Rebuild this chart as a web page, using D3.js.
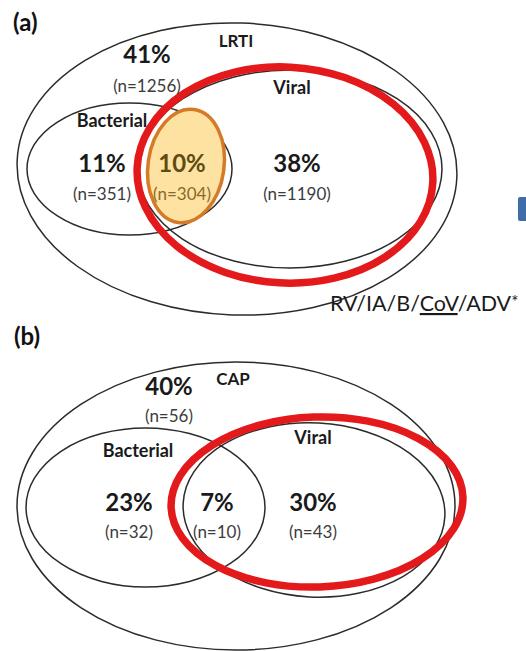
<!DOCTYPE html>
<html>
<head>
<meta charset="utf-8">
<script src="https://cdn.jsdelivr.net/npm/d3@7"></script>
<style>
  html, body { margin: 0; padding: 0; background: #fff; }
  svg { display: block; }
  text { font-family: Lato, "Open Sans", sans-serif; }
</style>
</head>
<body>
<div id="chart"></div>
<script>
// ---- data ----
const panelTags   = ["(a)", "(b)"];
const cohortNames = ["LRTI", "CAP"];
const setNames    = ["Bacterial", "Viral"];
// regions: neither, bacterial only, co-detection, viral only
const regionKeys  = ["neither", "bacterialOnly", "both", "viralOnly"];
const lrtiPct     = [41, 11, 10, 38];
const lrtiN       = [1256, 351, 304, 1190];
const capPct      = [40, 23, 7, 30];
const capN        = [56, 32, 10, 43];
const pathogenList = ["RV", "IA", "B", "CoV", "ADV"];

// ---- layout (pixel units inside each panel frame) ----
const W = 526, H = 651;
const panelOffsets = [0, 337];

// ellipse geometry per panel: cx, cy, rx, ry, rotation (deg)
const shapesA = {
  cohort:    [237, 169, 220, 146, 2],
  bacterial: [129.5, 169, 102.5, 66, 0],
  viral:     [290, 169, 152, 99, 0],
  highlight: [285, 175, 148, 108, 3],
  overlap:   [186, 166, 38, 57, 8]
};
const shapesB = {
  cohort:    [236, 169, 219, 144, 0],
  bacterial: [145.5, 170.5, 119.5, 79.5, 0],
  viral:     [314, 173, 131, 87, 3],
  highlight: [317, 165, 146, 85, -2],
  overlap:   null
};

// label anchors per panel (cx, baseline for percentage, baseline for n)
const labelPosA = {
  neither:       [147, 63, 92],
  bacterialOnly: [102, 172, 200],
  both:          [182, 172, 200],
  viralOnly:     [297, 172, 200],
  cohort:        [236, 47],
  bacterial:     [112, 127],
  viral:         [292, 94],
  tag:           [13, 31]
};
const labelPosB = {
  neither:       [169, 58, 85],
  bacterialOnly: [129, 174, 201],
  both:          [217, 174, 201],
  viralOnly:     [313, 174, 201],
  cohort:        [233, 48],
  bacterial:     [138, 120],
  viral:         [313, 107],
  tag:           [14, 8]
};

const svg = d3.select("#chart").append("svg")
  .attr("width", W).attr("height", H)
  .attr("viewBox", `0 0 ${W} ${H}`);

svg.append("rect").attr("width", W).attr("height", H).attr("fill", "#fff");

function drawPanel(i, shapes, pos, pcts, ns) {
  const x = d3.scaleLinear().domain([0, W]).range([0, W]);
  const y = d3.scaleLinear().domain([0, H]).range([panelOffsets[i], panelOffsets[i] + H]);
  const g = svg.append("g");

  const ell = (spec, cls) => g.append("ellipse")
    .attr("class", cls)
    .attr("cx", 0).attr("cy", 0)
    .attr("rx", x(spec[2]) - x(0)).attr("ry", y(spec[3]) - y(0))
    .attr("transform", `translate(${x(spec[0])},${y(spec[1])}) rotate(${spec[4]})`)
    .attr("fill", "none");

  ell(shapes.cohort, "cohort").attr("stroke", "#2b2b2b").attr("stroke-width", 1.5);
  ell(shapes.bacterial, "bacterial").attr("stroke", "#2b2b2b").attr("stroke-width", 1.5);
  if (shapes.overlap) {
    ell(shapes.overlap, "overlap")
      .attr("fill", "#fde2a1").attr("stroke", "#d57b28").attr("stroke-width", 3.5);
  }
  ell(shapes.viral, "viral").attr("stroke", "#2b2b2b").attr("stroke-width", 1.5);
  ell(shapes.highlight, "highlight").attr("stroke", "#e3191b").attr("stroke-width", 7.5);

  // panel tag
  g.append("text").attr("x", x(pos.tag[0])).attr("y", y(pos.tag[1]))
    .attr("font-size", 24).attr("font-weight", 700).attr("fill", "#111")
    .text(panelTags[i]);

  // set names
  g.append("text").attr("x", x(pos.cohort[0])).attr("y", y(pos.cohort[1]))
    .attr("text-anchor", "middle").attr("font-size", 17).attr("font-weight", 700)
    .attr("fill", "#1a1a1a").text(cohortNames[i]);
  g.append("text").attr("x", x(pos.bacterial[0])).attr("y", y(pos.bacterial[1]))
    .attr("text-anchor", "middle").attr("font-size", 18).attr("font-weight", 700)
    .attr("fill", "#1a1a1a").text(setNames[0]);
  g.append("text").attr("x", x(pos.viral[0])).attr("y", y(pos.viral[1]))
    .attr("text-anchor", "middle").attr("font-size", 18).attr("font-weight", 700)
    .attr("fill", "#1a1a1a").text(setNames[1]);

  // region values
  regionKeys.forEach((k, j) => {
    const p = pos[k];
    const tinted = (i === 0 && k === "both");
    g.append("text").attr("x", x(p[0])).attr("y", y(p[1]))
      .attr("text-anchor", "middle").attr("font-size", 24).attr("font-weight", 700)
      .attr("fill", tinted ? "#5e4b12" : "#1a1a1a")
      .text(`${pcts[j]}%`);
    g.append("text").attr("x", x(p[0])).attr("y", y(p[2]))
      .attr("text-anchor", "middle").attr("font-size", 17)
      .attr("fill", tinted ? "#8a6a2c" : "#3c3c3c")
      .text(`(n=${ns[j]})`);
  });
}

drawPanel(0, shapesA, labelPosA, lrtiPct, lrtiN);
drawPanel(1, shapesB, labelPosB, capPct, capN);

// pathogen list under panel (a), CoV underlined
const plist = svg.append("text").attr("x", 330).attr("y", 311)
  .attr("font-size", 21.5).attr("fill", "#1a1a1a");
pathogenList.forEach((p, k) => {
  if (k > 0) plist.append("tspan").text("/");
  const t = plist.append("tspan").text(p);
  if (p === "CoV") t.attr("text-decoration", "underline");
});
plist.append("tspan").attr("font-size", 17).attr("dy", -3).text("*");

// edge of neighbouring legend swatch
svg.append("rect").attr("x", 518).attr("y", 197).attr("width", 12).attr("height", 24)
  .attr("rx", 2).attr("fill", "#3f6da8");
</script>
</body>
</html>
